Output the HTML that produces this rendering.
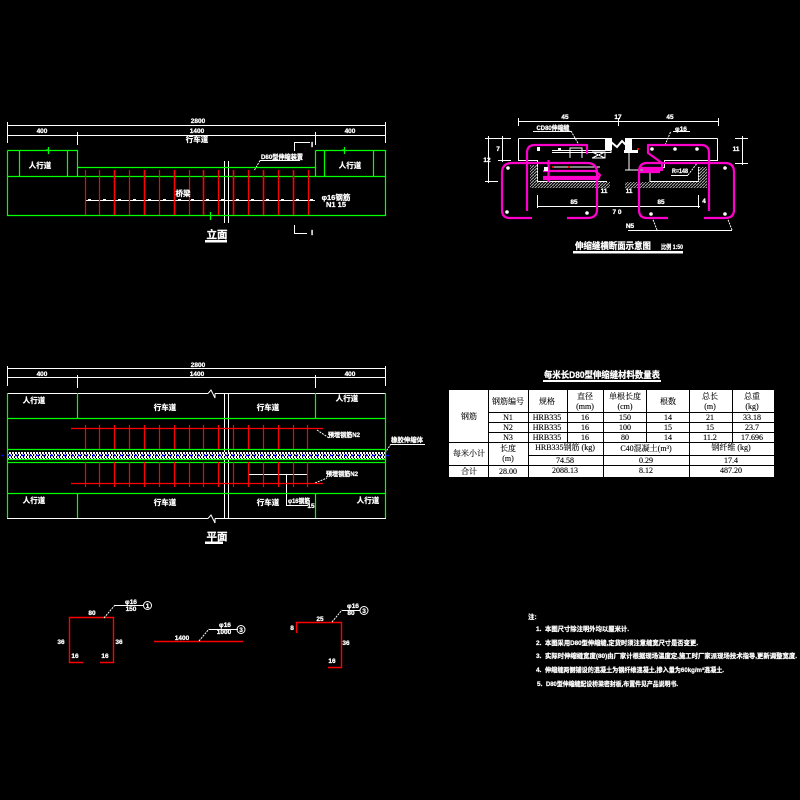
<!DOCTYPE html>
<html><head><meta charset="utf-8"><style>
html,body{margin:0;padding:0;background:#000}
svg{display:block}
text{font-family:"Liberation Sans","Noto Sans CJK SC",sans-serif;fill:#fff;font-weight:700;text-anchor:middle;stroke:#fff;stroke-width:.25}
.s{font-size:6.5px}
.m{font-size:7.5px}
.l{font-size:10.5px}
.t text{font-family:"Liberation Serif","Noto Serif CJK SC",serif;fill:#000;stroke:#000;stroke-width:.12;font-weight:400;font-size:8px}
.n text{text-anchor:start;font-size:6.5px}
</style></head><body>
<svg width="800" height="800" viewBox="0 0 800 800" xmlns="http://www.w3.org/2000/svg">
<defs>
<pattern id="h" width="3" height="3" patternUnits="userSpaceOnUse"><path d="M0 3L3 0" stroke="#aaa" stroke-width="1"/></pattern>
<pattern id="c" width="6" height="4" patternUnits="userSpaceOnUse"><rect width="6" height="4" fill="#000"/><rect width="2" height="2" fill="#fff"/><rect x="3" y="0" width="2" height="2" fill="#fff"/><rect x="1" y="2" width="2" height="2" fill="#fff"/><rect x="4" y="2" width="2" height="2" fill="#ddd"/></pattern>
</defs>
<rect width="800" height="800" fill="#000"/>

<!-- ELEVATION -->
<g fill="none" stroke="#fff" shape-rendering="crispEdges">
<path d="M7 125.500H385M7 135.500H385M7.500 122V143M77.500 132V145M315.500 132V145M385.500 122V143"/>
<path d="M224.500 161V223M228.500 161V223"/>
<path d="M85 200.500H315"/>
<path d="M294.500 151V142.500H310M294.500 225V233.500H307M260 160.500H300"/>
</g>
<path d="M260 160.500L254 171" stroke="#fff" stroke-dasharray="2 1" fill="none"/>
<g fill="#fff">
<rect x="88" y="199" width="3" height="1"/><rect x="103" y="199" width="3" height="1"/><rect x="118" y="199" width="3" height="1"/><rect x="133" y="199" width="3" height="1"/><rect x="148" y="199" width="3" height="1"/><rect x="163" y="199" width="3" height="1"/><rect x="178" y="199" width="3" height="1"/><rect x="191" y="199" width="3" height="1"/><rect x="206" y="199" width="3" height="1"/><rect x="221" y="199" width="3" height="1"/><rect x="236" y="199" width="3" height="1"/><rect x="251" y="199" width="3" height="1"/><rect x="266" y="199" width="3" height="1"/><rect x="281" y="199" width="3" height="1"/><rect x="296" y="199" width="3" height="1"/><rect x="310" y="199" width="3" height="1"/>
<rect x="205" y="240" width="22" height="2.500"/><rect x="205" y="541.500" width="18" height="2.500"/>
</g>
<g fill="none" stroke="#0f0" stroke-width="1.200">
<path d="M7.500 150.500H77.500V176.500M19.500 150.500V176.500M67.500 150.500V176.500"/>
<path d="M77.500 167.500H315.500M315.500 150.500H385.500V215.500H7.500V150.500M315.500 150.500V176.500M324.500 150.500V176.500M373.500 150.500V176.500M7.500 176.500H385.500"/>
<path d="M46 150H48.500V154M48.500 147V150M342 150H344.500V154M344.500 147V150M210.500 212V220"/>
</g>
<g stroke="#f00" fill="none">
<path d="M85.500 170V215M99.500 170V215M129.500 170V215M159.500 170V215M189.500 170V215M218.500 170V215M248.500 170V215M278.500 170V215M308.500 170V215" stroke-width="1.200"/>
<path d="M114.500 170V215M144.500 170V215M174.500 170V215M203.500 170V215M233.500 170V215M263.500 170V215M293.500 170V215" stroke-width="1.600"/>
</g>
<text class="s" x="198" y="123">2800</text><text class="s" x="42" y="133">400</text><text class="s" x="197" y="133">1400</text><text class="s" x="350" y="133">400</text>
<text class="m" x="197" y="142">行车道</text>
<text class="m" x="40" y="168">人行道</text><text class="m" x="350" y="168">人行道</text>
<text class="m" x="183" y="196">桥梁</text>
<text class="s" x="282" y="159" textLength="42" lengthAdjust="spacingAndGlyphs">D80型伸缩装置</text>
<text class="m" x="336" y="200">φ16钢筋</text><text class="m" x="336" y="207">N1 15</text>
<text class="m" x="312" y="147">I</text><text class="m" x="312" y="235">I</text>
<text class="l" x="217" y="238" textLength="21" lengthAdjust="spacingAndGlyphs">立面</text>

<!-- PLAN -->
<g fill="none" stroke="#fff" shape-rendering="crispEdges">
<path d="M7 368.500H385M7 377.500H385M7.500 366V386M77.500 375V388M315.500 375V388M385.500 366V386"/>
<path d="M7 393.500H208M215 393.500H385.500V518.500H215M208 518.500H7"/>
<path d="M224.500 393V518M228.500 393V518"/>
<path d="M248 474.500H308M286.500 474.500V505.500H308"/>
<path d="M391 444.500H425"/>
</g>
<path d="M208 393.500L211 390L215 398L215 393.500M208 518.500L211 515L215 523L215 518.500" stroke="#fff" fill="none"/>
<path d="M317 430L329 438M315 483L327 478M385 453L391 444" stroke="#fff" stroke-dasharray="2 1" fill="none"/>
<rect x="7" y="452" width="378" height="7" fill="url(#c)"/>
<path d="M1 455.500H391" stroke="#00f" stroke-width="1.500" stroke-dasharray="3 4" fill="none"/>
<g fill="none" stroke="#0f0" stroke-width="1.200">
<path d="M7.500 393V518M77.500 393V418M77.500 493V518M315.500 393V418M315.500 493V518M385.500 393V518"/>
<path d="M7 418.500H385M7 493.500H385M7 462.500H385"/>
<path d="M7 449.500H385M7 459.500H385"/>
</g>
<g stroke="#f00" fill="none">
<path d="M71 428.500H323M71 483.500H323" stroke-width="1.300"/>
<path d="M85.500 425V449M99.500 425V449M114.500 425V449M129.500 425V449M144.500 425V449M159.500 425V449M174.500 425V449M189.500 425V449M203.500 425V449M218.500 425V449M233.500 425V449M248.500 425V449M263.500 425V449M278.500 425V449M293.500 425V449M307.500 425V449" stroke-width="1.200"/>
<path d="M85.500 462V487M99.500 462V487M114.500 462V487M129.500 462V487M144.500 462V487M159.500 462V487M174.500 462V487M189.500 462V487M203.500 462V487M218.500 462V487M233.500 462V487M248.500 462V487M263.500 462V487M278.500 462V487M293.500 462V487M307.500 462V487" stroke-width="1.200"/>
</g>
<text class="s" x="198" y="367">2800</text><text class="s" x="42" y="376">400</text><text class="s" x="197" y="376">1400</text><text class="s" x="350" y="376">400</text>
<text class="m" x="34" y="403">人行道</text><text class="m" x="165" y="410">行车道</text><text class="m" x="268" y="410">行车道</text><text class="m" x="347" y="401">人行道</text>
<text class="m" x="34" y="503">人行道</text><text class="m" x="165" y="505">行车道</text><text class="m" x="268" y="505">行车道</text><text class="m" x="368" y="503">人行道</text>
<text class="s" x="344" y="437" textLength="32" lengthAdjust="spacingAndGlyphs">预埋钢筋N2</text><text class="s" x="342" y="476" textLength="32" lengthAdjust="spacingAndGlyphs">预埋钢筋N2</text>
<text class="s" x="407" y="442" textLength="32" lengthAdjust="spacingAndGlyphs">橡胶伸缩体</text>
<text class="s" x="299" y="503" textLength="22" lengthAdjust="spacingAndGlyphs">φ16钢筋</text><text class="s" x="311" y="508">15</text>
<text class="l" x="217" y="540" textLength="21" lengthAdjust="spacingAndGlyphs">平面</text>

<!-- SECTION -->
<g fill="none" stroke="#fff" shape-rendering="crispEdges">
<path d="M518 121.500H718M518.500 118V126M718.500 118V126M618.500 118V126"/>
<path d="M485 138.500H511M498 160.500H511M485 181.500H498M488.500 136V183M502.500 136V162"/>
<path d="M533 131.500H571M673 131.500H690M671 175.500H688M735 138.500H748M735 163.500H748M742.500 136V165"/>
<path d="M518.500 138.500H607V150M518.500 138.500V160.500H537.500V181.500H607M552 150.500H611V152.500H552M570 158V148H582V158M592 152H605V158H592M592 152L605 158M605 152L592 158M552 167H600"/>
<path d="M717.500 138.500H632M717.500 138.500V160.500H664.500V167.500H640M629 152V170H650M625 170H650V181.500H698.500V167"/>
<path d="M537.500 195V208M537 206.500H610M698.500 195V208M610 206.500H700"/>
<path d="M628 230.500H732"/>
</g>
<path d="M611 142L617 147L622 141L628 147" stroke="#fff" stroke-width="2" fill="none"/>
<rect x="605" y="138" width="7" height="12" fill="#fff"/><rect x="625" y="138" width="7" height="14" fill="#fff"/>
<rect x="624" y="150" width="14" height="3" fill="#fff"/>
<path d="M652 217L657 230M727 217L732 230M571 131L579 145M665 145L671 131M688 175L698 162" stroke="#fff" fill="none" stroke-dasharray="2 1"/>
<rect x="530" y="165" width="8" height="18" fill="url(#h)"/><rect x="530" y="182" width="80" height="6" fill="url(#h)"/>
<rect x="625" y="182" width="82" height="6" fill="url(#h)"/><rect x="698" y="167" width="9" height="15" fill="url(#h)"/>
<g fill="none" stroke="#f0c" stroke-width="2.200" stroke-linejoin="round">
<path d="M527 211V153Q527 145 535 145H587V154"/>
<path d="M532 218H510Q502 218 502 210V173Q502 163 512 163H587Q597 163 597 173V210Q597 218 587 218H567"/>
<path d="M543 171H598M543 177H600M543 179H598L600 175L595 171M548.500 160V182"/>
<path d="M709 211V153Q709 145 701 145H648V153L662 163V170H643"/>
<path d="M668 218H647Q639 218 639 210V172Q639 163 647 163H725Q734 163 734 172V210Q734 218 725 218H704"/>
<path d="M640 168H662M640 172H660"/>
</g>
<g fill="#fff">
<circle cx="508" cy="168" r="1.800"/><circle cx="507" cy="212" r="1.800"/><circle cx="587" cy="213" r="1.800"/><rect x="537" y="147" width="3" height="4"/><rect x="544" y="167" width="4" height="4"/><rect x="558" y="148" width="3" height="3"/>
<circle cx="652" cy="149" r="1.800"/><circle cx="675" cy="149" r="1.800"/><circle cx="697" cy="149" r="1.800"/><circle cx="725" cy="168" r="1.800"/><circle cx="651" cy="214" r="1.800"/><circle cx="725" cy="214" r="1.800"/>
<rect x="573" y="251" width="110" height="2.500"/><rect x="543" y="380" width="118" height="2"/>
</g>
<g fill="#f00"><rect x="552" y="166" width="2" height="2"/><rect x="568" y="166" width="2" height="2"/><rect x="637" y="148" width="2" height="2"/></g>
<text class="s" x="565" y="119">45</text><text class="s" x="670" y="119">45</text><text class="s" x="618" y="119">17</text>
<text class="s" x="553" y="130" textLength="33" lengthAdjust="spacingAndGlyphs">CD80伸缩缝</text>
<text class="s" x="681" y="131">φ16</text><text class="s" x="680" y="173" textLength="16" lengthAdjust="spacingAndGlyphs">R=148</text>
<text class="s" x="487" y="162">12</text><text class="s" x="498" y="151">7</text><text class="s" x="736" y="151">11</text>
<text class="s" x="574" y="204">85</text><text class="s" x="661" y="204">85</text><text class="s" x="704" y="203">4</text>
<text class="s" x="604" y="193">11</text><text class="s" x="629" y="193">11</text><text class="s" x="617" y="214">7 0</text><text class="s" x="630" y="228">N5</text>
<text x="613" y="249" font-size="9" textLength="76" lengthAdjust="spacingAndGlyphs">伸缩缝横断面示意图</text>
<text class="s" x="672" y="249" textLength="22" lengthAdjust="spacingAndGlyphs">比例 1:50</text>

<!-- TABLE -->
<text x="602" y="378" font-size="9" textLength="116" lengthAdjust="spacingAndGlyphs">每米长D80型伸缩缝材料数量表</text>
<rect x="449" y="390" width="325" height="87" fill="#fff"/>
<g stroke="#000" fill="none" shape-rendering="crispEdges">
<path d="M488.500 390V442M528.500 390V477M567.500 390V442M603.500 390V477M646.500 390V442M689.500 390V477M732.500 390V442M488.500 442V477"/>
<path d="M488 412.500H774M488 422.500H774M488 432.500H774M449 442.500H774M528 455.500H774M449 465.500H774"/>
</g>
<g class="t">
<text x="469" y="419">钢筋</text>
<text x="508" y="404">钢筋编号</text><text x="547" y="404">规格</text><text x="585" y="399">直径</text><text x="585" y="409">(mm)</text>
<text x="625" y="399">单根长度</text><text x="625" y="409">(cm)</text><text x="668" y="404">根数</text><text x="710" y="399">总长</text><text x="710" y="409">(m)</text><text x="752" y="399">总重</text><text x="752" y="409">(kg)</text>
<text x="508" y="420">N1</text><text x="547" y="420">HRB335</text><text x="585" y="420">16</text><text x="625" y="420">150</text><text x="668" y="420">14</text><text x="710" y="420">21</text><text x="752" y="420">33.18</text>
<text x="508" y="430">N2</text><text x="547" y="430">HRB335</text><text x="585" y="430">16</text><text x="625" y="430">100</text><text x="668" y="430">15</text><text x="710" y="430">15</text><text x="752" y="430">23.7</text>
<text x="508" y="440">N3</text><text x="547" y="440">HRB335</text><text x="585" y="440">16</text><text x="625" y="440">80</text><text x="668" y="440">14</text><text x="710" y="440">11.2</text><text x="752" y="440">17.696</text>
<text x="469" y="456">每米小计</text><text x="508" y="451">长度</text><text x="508" y="461">(m)</text>
<text x="565" y="450">HRB335钢筋 (kg)</text><text x="646" y="451">C40混凝土(m³)</text><text x="731" y="450">钢纤维 (kg)</text>
<text x="565" y="463">74.58</text><text x="646" y="463">0.29</text><text x="731" y="463">17.4</text>
<text x="469" y="474">合计</text><text x="508" y="474">28.00</text><text x="565" y="473">2088.13</text><text x="646" y="473">8.12</text><text x="731" y="473">487.20</text>
</g>

<!-- REBAR DETAILS -->
<g fill="none" stroke="#f00" stroke-width="1.400">
<path d="M83 662.500H69.500V617.500H113.500V662.500H100"/>
<path d="M154 641.500H243"/>
<path d="M296.500 633V622.500H341.500V667.500H328"/>
</g>
<g fill="none" stroke="#fff" shape-rendering="crispEdges">
<path d="M115 605.500H143M209 629.500H238M342 610.500H360"/>
</g>
<path d="M104 618L115 605M199 641L209 629M332 622L342 610" stroke="#fff" stroke-dasharray="2 1" fill="none"/>
<circle cx="147.500" cy="605.500" r="4" fill="none" stroke="#fff"/><circle cx="241" cy="629.500" r="4" fill="none" stroke="#fff"/><circle cx="364" cy="610.500" r="4" fill="none" stroke="#fff"/>
<text class="s" x="147.500" y="608">1</text><text class="s" x="241" y="632">3</text><text class="s" x="364" y="613">3</text>
<text class="s" x="92" y="615">80</text><text class="s" x="61" y="644">36</text><text class="s" x="119" y="644">36</text><text class="s" x="75" y="658">16</text><text class="s" x="105" y="658">16</text>
<text class="s" x="131" y="604">φ16</text><text class="s" x="131" y="611">150</text>
<text class="s" x="182" y="640">1400</text><text class="s" x="225" y="627">φ16</text><text class="s" x="224" y="634">1000</text>
<text class="s" x="292" y="630">8</text><text class="s" x="320" y="621">25</text><text class="s" x="346" y="645">36</text><text class="s" x="332" y="663">16</text>
<text class="s" x="353" y="608">φ16</text><text class="s" x="351" y="615">80</text>

<!-- NOTES -->
<g class="n">
<text x="528" y="619">注:</text>
<text x="536" y="631">1.</text><text x="545" y="631" textLength="84" lengthAdjust="spacingAndGlyphs">本图尺寸除注明外均以厘米计.</text>
<text x="536" y="645">2.</text><text x="545" y="645" textLength="153" lengthAdjust="spacingAndGlyphs">本图采用D80型伸缩缝,定货时须注意缝宽尺寸是否变更.</text>
<text x="536" y="658">3.</text><text x="545" y="658" textLength="252" lengthAdjust="spacingAndGlyphs">实际时伸缩缝宽度(80)由厂家计根据现场温度定,施工时厂家派现场技术指导,更新调整宽度.</text>
<text x="536" y="672">4.</text><text x="545" y="672" textLength="179" lengthAdjust="spacingAndGlyphs">伸缩缝两侧铺设的混凝土为钢纤维混凝土,掺入量为60kg/m³混凝土.</text>
<text x="537" y="686">5.</text><text x="546" y="686" textLength="132" lengthAdjust="spacingAndGlyphs">D80型伸缩缝配设桥梁密封板,布置件见产品说明书.</text>
</g>
</svg>
</body></html>
